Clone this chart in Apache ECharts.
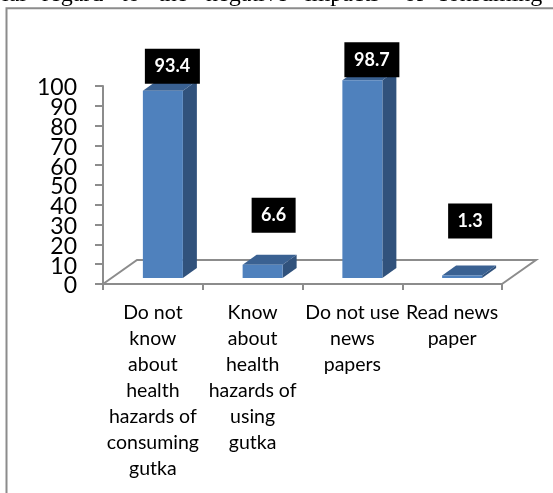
<!DOCTYPE html>
<html><head><meta charset="utf-8">
<style>html,body{margin:0;padding:0;background:#fff}#c{width:553px;height:493px}</style>
<script src="https://cdn.jsdelivr.net/npm/echarts@6/dist/echarts.min.js"></script>
</head><body><div id="c"></div>
<script>
const categories = [
  'Do not\nknow\nabout\nhealth\nhazards of\nconsuming\ngutka',
  'Know\nabout\nhealth\nhazards of\nusing\ngutka',
  'Do not use\nnews\npapers',
  'Read news\npaper'
];
const values = [93.4, 6.6, 98.7, 1.3];
const yTicks = [0,10,20,30,40,50,60,70,80,90,100];
const headerWords = ['ial','regard','to','the','negative','impacts','of','consuming'];
const headerX = [2,42,121,158,206,305,404,437];
const labelGaps = [7, 32, 3, 37];
const labelShift = [9.5, 11, 9.5, 8];

const chart = echarts.init(document.getElementById('c'), null, {renderer:'canvas'});
const AX = '#8c8c8c';
const floorDX = 34, floorDY = -24;
const barW = 40, barDX = 14, barDY = -10, baseLift = 6, barShift = -10, barScale = 1.012;

chart.setOption({
  animation:false,
  backgroundColor:'#fff',
  grid:{left:103,top:86,width:399,height:198,containLabel:false},
  xAxis:{type:'category',data:categories,
    axisLine:{show:true,lineStyle:{color:AX,width:2}},
    axisTick:{show:true,length:6,lineStyle:{color:AX,width:2}},
    axisLabel:{interval:0,color:'#000',fontFamily:'Lato',fontSize:19.5,lineHeight:26,margin:16,align:'center',verticalAlign:'top'},
    splitLine:{show:false}},
  yAxis:{type:'value',min:0,max:100,interval:10,
    axisLine:{show:true,lineStyle:{color:AX,width:2}},
    axisTick:{show:true,length:8,lineStyle:{color:AX,width:2}},
    axisLabel:{show:false},
    splitLine:{show:false}},
  graphic:[
    {type:'rect',silent:true,z:0,shape:{x:6.5,y:8.3,width:560,height:500},style:{fill:'none',stroke:'#8c8c8c',lineWidth:2}}
  ].concat(headerWords.map((w,i)=>({type:'text',silent:true,z:5,x:headerX[i],y:7,
    style:{text:w,fontFamily:'Liberation Serif',fontSize:24,fill:'#000',verticalAlign:'bottom'}}))),
  series:[
    {type:'custom',z:2,coordinateSystem:'cartesian2d',silent:true,clip:false,
     data:yTicks.map(v=>[0,v]),encode:{x:0,y:1},
     renderItem(params,api){
       const v=api.value(1);const p=api.coord([0,v]);const xs=api.size([1,0])[0];
       return {type:'text',style:{text:String(v),x:p[0]-xs/2-26,y:p[1]+2,align:'right',verticalAlign:'middle',fill:'#000',fontFamily:'Lato',fontSize:23}};
     }},
    {type:'custom',z:1,coordinateSystem:'cartesian2d',data:[[0,0]],silent:true,
     renderItem(params,api){
       const o=api.coord([0,0]); const xs=api.size([1,0])[0]; const x0=o[0]-xs/2; const x1=x0+xs*categories.length;
       const y=o[1];
       return {type:'polyline',shape:{points:[[x0,y],[x0+floorDX,y+floorDY],[x1+floorDX,y+floorDY],[x1,y]]},style:{fill:'none',stroke:AX,lineWidth:2}};
     }},
    {type:'custom',z:3,coordinateSystem:'cartesian2d',silent:true,
     data:values.map((v,i)=>[i,v]),
     encode:{x:0,y:1},
     renderItem(params,api){
       const i=api.value(0),v=api.value(1);
       const top=api.coord([i,v]),base=api.coord([i,0]);
       const l=top[0]-barW/2-barShift, r=l+barW, b=base[1]-baseLift, t=b-(base[1]-top[1])*barScale;
       const lh=35;
       const bw=String(v).length>3?55:44;
       const cx=l+barW/2+labelShift[i];
       const by=t-labelGaps[i]-lh;
       return {type:'group',children:[
         {type:'polygon',shape:{points:[[r,b],[r+barDX,b+barDY],[r+barDX,t+barDY],[r,t]]},style:{fill:'#31527c'}},
         {type:'polygon',shape:{points:[[l,t],[l+barDX,t+barDY],[r+barDX,t+barDY],[r,t]]},style:{fill:'#3a6192'}},
         {type:'rect',shape:{x:l,y:t,width:barW,height:b-t},style:{fill:'#4f81bd'}},
         {type:'rect',shape:{x:cx-bw/2,y:by,width:bw,height:lh},style:{fill:'#000'}},
         {type:'text',style:{text:String(v),x:cx,y:by+lh/2,align:'center',verticalAlign:'middle',fill:'#fff',fontFamily:'Lato',fontWeight:'bold',fontSize:18}}
       ]};
     }}
  ]
});
</script></body></html>
